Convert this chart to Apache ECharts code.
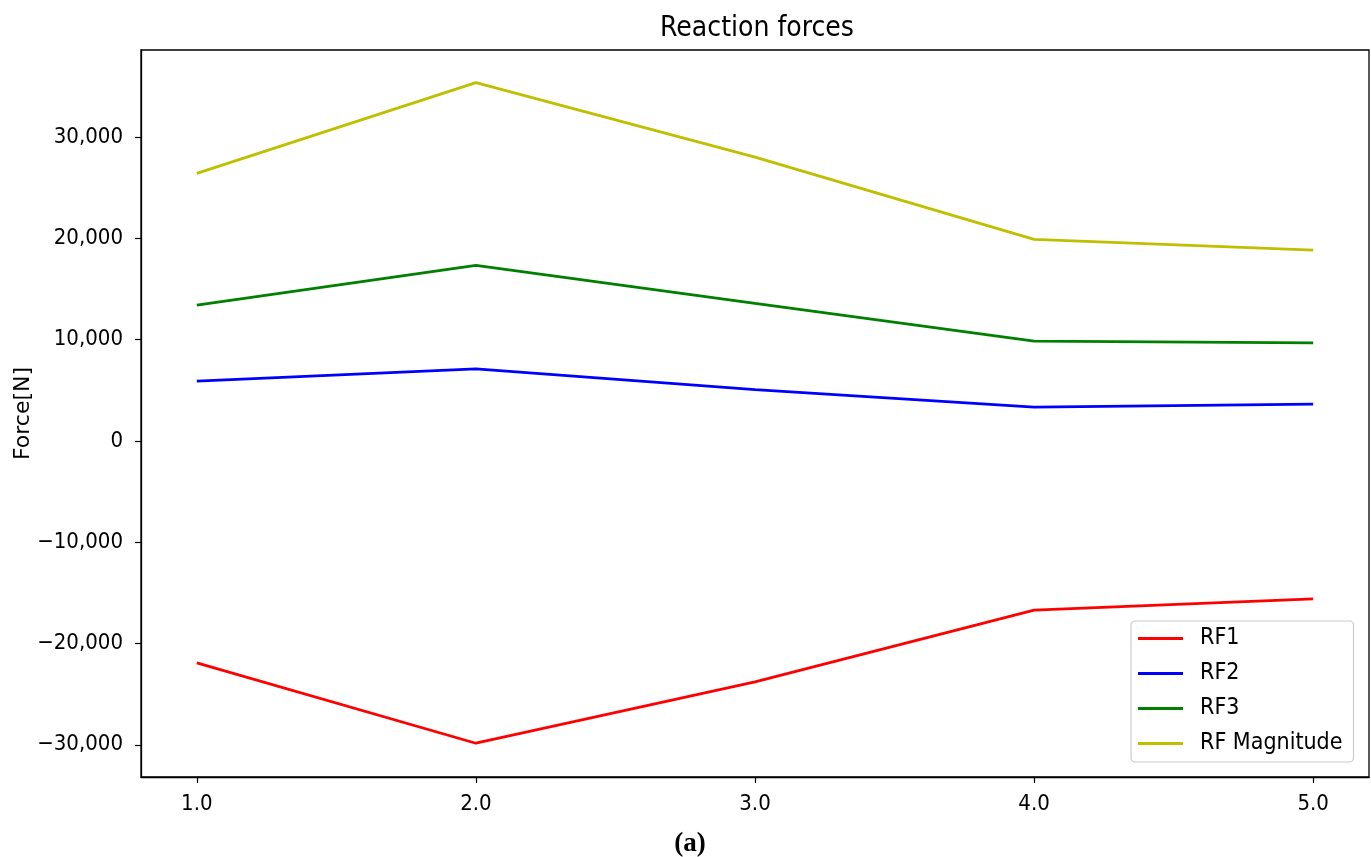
<!DOCTYPE html>
<html>
<head>
<meta charset="utf-8">
<script src="https://cdn.jsdelivr.net/npm/echarts@6/dist/echarts.min.js"></script>
<style>
html,body{margin:0;padding:0;background:#fff;}
#chart{width:1371px;height:857px;}
</style>
</head>
<body>
<div id="chart"></div>
<script>
const steps = [1.0, 2.0, 3.0, 4.0, 5.0];
const rf1 = [-21920, -29850, -23800, -16720, -15600];
const rf2 = [5890, 7110, 5060, 3320, 3620];
const rf3 = [13400, 17310, 13560, 9840, 9670];
const rfMag = [26400, 35350, 28010, 19880, 18830];
const xTicks = [1, 2, 3, 4, 5];
const yTicks = [-30000, -20000, -10000, 0, 10000, 20000, 30000];
const seriesNames = ['RF1', 'RF2', 'RF3', 'RF Magnitude'];

const FONT = "'DejaVu Sans Condensed', 'DejaVu Sans', sans-serif";
const pairs = arr => steps.map((x, i) => [x, arr[i]]);
const fmtY = v => {
  const s = Math.abs(v).toLocaleString('en-US');
  return (v < 0 ? '\u2212' : '') + s;
};

const chart = echarts.init(document.getElementById('chart'), null, {renderer: 'canvas'});
const colors = ['#ff0000', '#0000ff', '#008000', '#bfbf00'];
const data = [rf1, rf2, rf3, rfMag];

chart.setOption({
  animation: false,
  backgroundColor: '#ffffff',
  title: [
    {text: 'Reaction forces', left: 752, top: 10, textAlign: 'center',
     textStyle: {fontFamily: FONT, fontSize: 28, fontWeight: 'normal', color: '#000'}},
    {text: '(a)', left: 685, top: 826, textAlign: 'center',
     textStyle: {fontFamily: "'Liberation Serif', serif", fontSize: 27, fontWeight: 'bold', color: '#000'}}
  ],
  grid: {left: 141, right: 2, top: 50, bottom: 80, outerBoundsMode: 'none', containLabel: false,
    show: true, borderColor: '#000', borderWidth: 1.3, backgroundColor: 'transparent'},
  legend: {
    orient: 'vertical',
    left: 1131, top: 621,
    data: seriesNames,
    icon: 'rect',
    itemWidth: 45, itemHeight: 3,
    itemGap: 12,
    padding: [6, 11, 7, 7],
    borderColor: '#cccccc', borderWidth: 1.2, borderRadius: 4,
    backgroundColor: 'rgba(255,255,255,0.8)',
    textStyle: {fontFamily: FONT, fontSize: 23, color: '#000', lineHeight: 23, padding: [0, 0, 0, 12]}
  },
  xAxis: {
    type: 'value', min: 0.8, max: 5.2,
    splitLine: {show: false},
    axisLine: {show: true, onZero: false, lineStyle: {color: '#000', width: 1.3}},
    axisTick: {show: true, length: 6, lineStyle: {color: '#000', width: 1.2}, customValues: xTicks},
    axisLabel: {customValues: xTicks, formatter: v => v.toFixed(1), margin: 16,
      fontFamily: FONT, fontSize: 22, color: '#000'}
  },
  yAxis: {
    type: 'value', min: -33183, max: 38576,
    name: 'Force[N]', nameLocation: 'middle', nameGap: 107, nameRotate: 90,
    nameMoveOverlap: false,
    nameTextStyle: {fontFamily: "'DejaVu Sans', sans-serif", fontSize: 22, color: '#000'},
    splitLine: {show: false},
    axisLine: {show: true, onZero: false, lineStyle: {color: '#000', width: 1.3}},
    axisTick: {show: true, length: 6, lineStyle: {color: '#000', width: 1.2}, customValues: yTicks},
    axisLabel: {customValues: yTicks, formatter: fmtY, margin: 18,
      fontFamily: FONT, fontSize: 22, color: '#000'}
  },
  series: seriesNames.map((n, i) => ({
    name: n, type: 'line', data: pairs(data[i]),
    showSymbol: false, symbol: 'none',
    lineStyle: {color: colors[i], width: 2.8},
    itemStyle: {color: colors[i]},
    z: 2 + i
  }))
});
</script>
</body>
</html>
